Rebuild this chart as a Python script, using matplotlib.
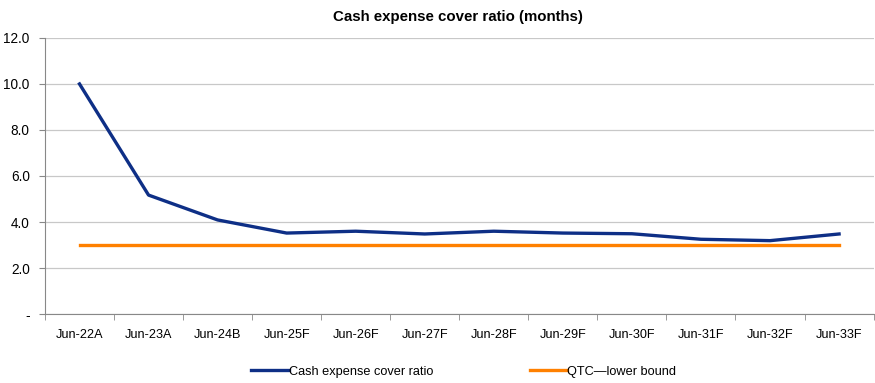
import matplotlib.pyplot as plt
import numpy as np

plt.rcParams['font.family'] = ['Liberation Sans', 'DejaVu Sans']

periods = ['Jun-22A', 'Jun-23A', 'Jun-24B', 'Jun-25F', 'Jun-26F', 'Jun-27F',
           'Jun-28F', 'Jun-29F', 'Jun-30F', 'Jun-31F', 'Jun-32F', 'Jun-33F']
cover_ratio = [10.0, 5.17, 4.09, 3.52, 3.6, 3.48, 3.6, 3.52, 3.49, 3.25, 3.19, 3.48]
lower_bound = [3.0] * len(periods)
y_ticks = [0, 2, 4, 6, 8, 10, 12]

fig = plt.figure(figsize=(8.75, 3.83), dpi=100)
ax = fig.add_axes([0.0514, 0.18, 0.947, 0.721])

x = np.arange(len(periods))
ax.plot(x, cover_ratio, color='#0E2F86', lw=2.4, label='Cash expense cover ratio',
        solid_joinstyle='round', zorder=3)
ax.plot(x, lower_bound, color='#FF8000', lw=2.4, label='QTC\u2014lower bound', zorder=2)

ax.set_xlim(-0.5, len(periods) - 0.5)
ax.set_ylim(0, 12)
ax.set_yticks(y_ticks)
ax.set_yticklabels(['-' if v == 0 else f'{v:.1f}' for v in y_ticks], fontsize=9.8)
ax.set_xticks(x)
ax.set_xticklabels(periods, fontsize=9.1)
ax.set_xticks(np.arange(len(periods) + 1) - 0.5, minor=True)
ax.tick_params(axis='x', which='major', length=0, pad=11)
ax.tick_params(axis='x', which='minor', length=4, color='#888888')
ax.tick_params(axis='y', length=4, color='#888888', pad=7)

ax.grid(axis='y', color='#C8C8C8', lw=0.9)
ax.set_axisbelow(True)
for side in ['top', 'right']:
    ax.spines[side].set_visible(False)
for side in ['left', 'bottom']:
    ax.spines[side].set_color('#888888')

fig.text(0.523, 0.955, 'Cash expense cover ratio (months)', ha='center', va='center',
         fontsize=10.8, fontweight='bold')
fig.legend(loc='center', bbox_to_anchor=(0.530, 0.029), ncol=2, frameon=False,
           fontsize=9.2, handlelength=2.9, handletextpad=0.0, columnspacing=7.6)

fig.savefig('out.png', dpi=100)
